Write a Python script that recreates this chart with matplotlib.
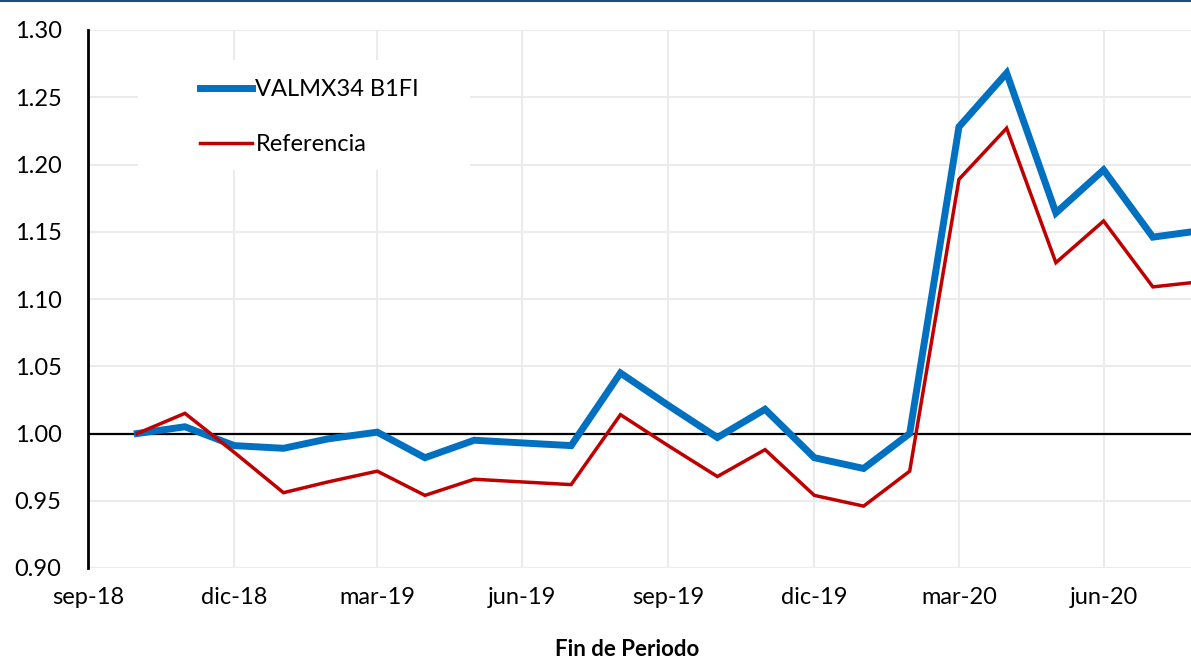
import numpy as np
import pandas as pd
import matplotlib
matplotlib.use("Agg")
import matplotlib.pyplot as plt
from matplotlib.patches import Rectangle

plt.rcParams['font.family'] = ['Lato', 'DejaVu Sans']

# monthly data, end of month, oct-18 .. ago-20
fechas = pd.date_range('2018-10-31', periods=23, freq=pd.offsets.MonthEnd())

valmx = [1.000, 1.005, 0.991, 0.989, 0.996, 1.001, 0.982, 0.995, 0.993, 0.991,
         1.045, 1.021, 0.997, 1.018, 0.982, 0.974, 1.000, 1.228, 1.268, 1.164,
         1.196, 1.146, 1.151]
referencia = [1.000, 1.015, 0.986, 0.956, 0.964, 0.972, 0.954, 0.966, 0.964, 0.962,
              1.014, 0.991, 0.968, 0.988, 0.954, 0.946, 0.972, 1.189, 1.227, 1.127,
              1.158, 1.109, 1.113]

tick_fechas = pd.to_datetime(['2018-09-30', '2018-12-31', '2019-03-31', '2019-06-30',
                              '2019-09-30', '2019-12-31', '2020-03-31', '2020-06-30'])
tick_labels = ['sep-18', 'dic-18', 'mar-19', 'jun-19', 'sep-19', 'dic-19', 'mar-20', 'jun-20']

fig = plt.figure(figsize=(11.91, 6.61), dpi=100)
ax = fig.add_axes([88/1191, 1 - 568/661, 1 - 88/1191, (568 - 30)/661])

ax.plot(fechas, valmx, color='#0070C0', lw=5, label='VALMX34 B1FI', zorder=3,
        solid_joinstyle='miter')
ax.plot(fechas, referencia, color='#C00000', lw=2.5, label='Referencia', zorder=4,
        solid_joinstyle='miter')
ax.axhline(1.0, color='black', lw=1.6, zorder=2)

ax.set_ylim(0.90, 1.30)
ax.set_yticks(np.arange(0.90, 1.301, 0.05))
ax.set_yticklabels([f'{v:.2f}' for v in np.arange(0.90, 1.301, 0.05)])
ax.set_xlim(pd.Timestamp('2018-09-30'), pd.Timestamp('2020-08-24'))
ax.set_xticks(tick_fechas)
ax.set_xticklabels(tick_labels)

ax.grid(True, color='#EBEBEB', lw=1.5, zorder=0)
ax.set_axisbelow(True)
for s in ['top', 'right', 'bottom']:
    ax.spines[s].set_visible(False)
ax.spines['left'].set_linewidth(2)
ax.spines['left'].set_color('black')
ax.tick_params(axis='both', length=0, labelsize=17, colors='black')
ax.tick_params(axis='y', pad=19)
ax.tick_params(axis='x', pad=14)

# white box behind legend
ax.add_patch(Rectangle((0.0453, 0.740), 0.301, 0.204, transform=ax.transAxes,
                       facecolor='white', edgecolor='none', zorder=1))
ax.legend(loc='upper left', bbox_to_anchor=(0.1015, 0.908), frameon=False,
          fontsize=17, handlelength=2.2, handletextpad=0.15, labelspacing=1.42,
          borderpad=0, borderaxespad=0)

fig.text(627/1191, 1 - 650/661, 'Fin de Periodo', ha='center', va='center',
         fontsize=16, fontweight='bold')

# thin top line
fig.add_artist(plt.Line2D([0, 1], [0.999, 0.999], transform=fig.transFigure,
                          color='#1F4E79', lw=1.5))

fig.savefig('out.png', dpi=100)
